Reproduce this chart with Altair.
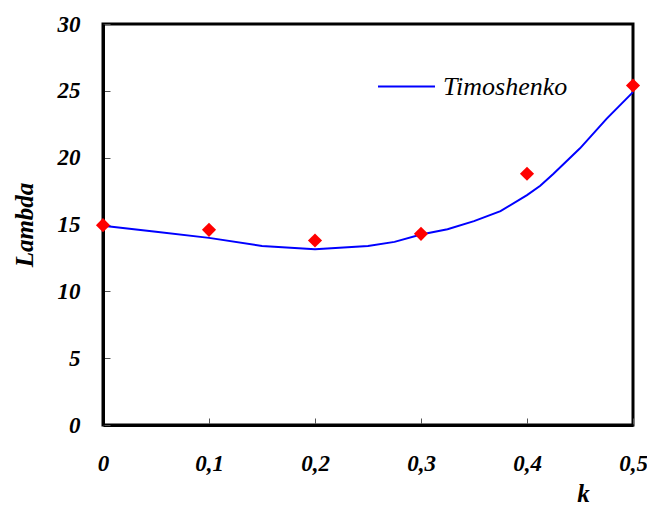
import altair as alt
import pandas as pd

# Data
k_line = [0, 0.05, 0.1, 0.15, 0.2, 0.25, 0.275, 0.3, 0.325, 0.35, 0.375, 0.4, 0.4125, 0.425, 0.45, 0.475, 0.5]
lam_line = [14.9, 14.45, 14.0, 13.4, 13.15, 13.4, 13.7, 14.25, 14.65, 15.25, 16.0, 17.2, 17.9, 18.8, 20.7, 22.9, 24.9]
k_pts = [0, 0.1, 0.2, 0.3, 0.4, 0.5]
lam_pts = [14.95, 14.6, 13.8, 14.3, 18.8, 25.4]
x_ticks = [0, 0.1, 0.2, 0.3, 0.4, 0.5]
y_ticks = [0, 5, 10, 15, 20, 25, 30]
series_name = "Timoshenko"

line_df = pd.DataFrame({"k": k_line, "Lambda": lam_line, "series": series_name})
pts_df = pd.DataFrame({"k": k_pts, "Lambda": lam_pts})

FONT = "Liberation Serif"

x_enc = alt.X(
    "k:Q",
    scale=alt.Scale(domain=[0, 0.5], nice=False),
    axis=alt.Axis(
        values=x_ticks,
        title="k",
        labelExpr="datum.value == 0 ? '0' : replace(format(datum.value, '.1f'), '.', ',')",
        labelFlush=False,
        labelOverlap=False,
        labelPadding=34,
        titleX=480,
        titleY=76,
        titleAlign="center",
        titleBaseline="alphabetic",
    ),
)
y_enc = alt.Y(
    "Lambda:Q",
    scale=alt.Scale(domain=[0, 30], nice=False),
    axis=alt.Axis(values=y_ticks, title="Lambda", labelPadding=30, titlePadding=20),
)

line = alt.Chart(line_df).mark_line(strokeWidth=2).encode(
    x=x_enc,
    y=y_enc,
    color=alt.Color(
        "series:N",
        scale=alt.Scale(domain=[series_name], range=["#0000ff"]),
        legend=alt.Legend(
            title=None,
            orient="none",
            legendX=274,
            legendY=33,
        ),
    ),
)

points = alt.Chart(pts_df).mark_point(
    shape="diamond", filled=True, color="#ff0000", size=200, opacity=1, strokeWidth=0
).encode(x="k:Q", y="Lambda:Q")

chart = (
    alt.layer(line, points)
    .properties(
        width=530,
        height=401,
        background="white",
        autosize=alt.AutoSizeParams(type="none"),
        padding={"left": 95, "top": 16, "right": 14, "bottom": 82},
    )
    .configure_view(stroke="black", strokeWidth=3)
    .configure_legend(
        symbolType="stroke",
        symbolSize=3249,
        symbolStrokeWidth=2,
        labelFont=FONT,
        labelFontStyle="italic",
        labelFontWeight="normal",
        labelFontSize=26,
        labelColor="black",
        labelOffset=7,
        labelLimit=300,
        padding=0,
    )
    .configure_axis(
        domainColor="black",
        domainWidth=3,
        grid=False,
        tickColor="#555555",
        tickWidth=1,
        tickSize=alt.ExprRef("-7"),
        labelFont=FONT,
        labelFontSize=23,
        labelFontStyle="italic",
        labelFontWeight="bold",
        labelColor="black",
        titleFont=FONT,
        titleFontSize=25,
        titleFontStyle="italic",
        titleFontWeight="bold",
        titleColor="black",
    )
)

chart.save("out.html", embed_options={"renderer": "svg", "actions": False})
